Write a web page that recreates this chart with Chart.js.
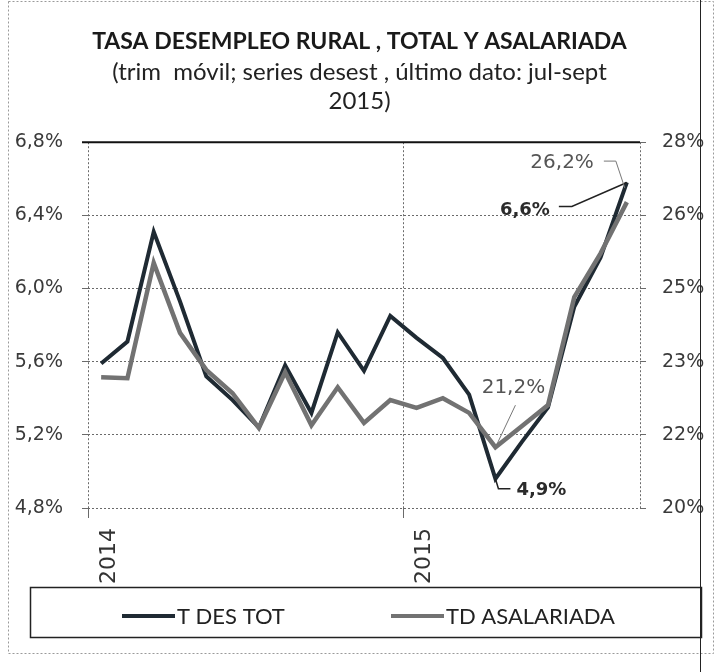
<!DOCTYPE html>
<html>
<head>
<meta charset="utf-8">
<script src="https://cdn.jsdelivr.net/npm/chart.js@4.4.0/dist/chart.umd.min.js"></script>
<style>
  html, body { margin: 0; padding: 0; background: #fff; }
  #wrap { width: 719px; height: 672px; position: relative; }
</style>
</head>
<body>
<div id="wrap"><canvas id="desempleoChart"></canvas></div>
<script>
// Moving quarters, Jan 2014 .. Sep 2015
const months = [
  "ene-14", "feb-14", "mar-14", "abr-14", "may-14", "jun-14", "jul-14", "ago-14", "sep-14", "oct-14", "nov-14", "dic-14",
  "ene-15", "feb-15", "mar-15", "abr-15", "may-15", "jun-15", "jul-15", "ago-15", "sep-15"
];
const xTickLabels = [
  "2014", "", "", "", "", "", "", "", "", "", "", "",
  "2015", "", "", "", "", "", "", "", ""
];

// T DES TOT (left axis, %)
const tasaTotal = [5.59, 5.71, 6.31, 5.93, 5.52, 5.39, 5.24, 5.58, 5.32, 5.76, 5.55, 5.85,
  5.73, 5.62, 5.42, 4.96, 5.16, 5.35, 5.90, 6.17, 6.58];
// TD ASALARIADA (right axis, %)
const tasaAsalariada = [22.86, 22.84, 25.36, 23.83, 23.02, 22.51, 21.75, 22.97, 21.81, 22.64, 21.86, 22.36,
  22.19, 22.40, 22.08, 21.33, 21.79, 22.25, 24.61, 25.57, 26.69];

const leftTicks = [4.8, 5.2, 5.6, 6.0, 6.4, 6.8];
const rightTicks = [20, 21.6, 23.2, 24.8, 26.4, 28];

// value callouts drawn next to their points
const callouts = [
  { ds: 0, idx: 20, text: "6,6%", bold: true },
  { ds: 1, idx: 20, text: "26,2%", bold: false },
  { ds: 1, idx: 15, text: "21,2%", bold: false },
  { ds: 0, idx: 15, text: "4,9%", bold: true }
];

const DARK = "#1f2a33";
const GRAY = "#727272";
const GRID = "#6a6a6a";

const pageDecor = {
  id: "pageDecor",
  beforeDraw(chart) {
    const ctx = chart.ctx;
    ctx.save();
    ctx.fillStyle = "#fff";
    ctx.fillRect(0, 0, chart.width, chart.height);
    ctx.restore();
  },
  afterDraw(chart) {
    const ctx = chart.ctx;
    const area = chart.chartArea;
    ctx.save();

    // outer frame of the pasted chart
    ctx.strokeStyle = "#9a9a9a";
    ctx.lineWidth = 1;
    ctx.setLineDash([2, 2]);
    ctx.strokeRect(8.5, 1.5, 705, 652);
    ctx.setLineDash([]);
    ctx.strokeStyle = "#222";
    ctx.beginPath();
    ctx.moveTo(700.5, 0);
    ctx.lineTo(700.5, 672);
    ctx.stroke();

    // solid top border of the plot
    ctx.strokeStyle = "#111";
    ctx.lineWidth = 2;
    ctx.beginPath();
    ctx.moveTo(area.left - 6, area.top);
    ctx.lineTo(area.right, area.top);
    ctx.stroke();

    // legend box
    ctx.lineWidth = 1.5;
    ctx.strokeStyle = "#222";
    ctx.strokeRect(30.5, 587.5, 671, 50);
    const items = [{ x: 122, textX: 177 }, { x: 391, textX: 446 }];
    ctx.font = "22px Lato";
    ctx.textBaseline = "middle";
    ctx.textAlign = "left";
    chart.data.datasets.forEach((ds, i) => {
      const it = items[i];
      ctx.strokeStyle = ds.borderColor;
      ctx.lineWidth = 4;
      ctx.beginPath();
      ctx.moveTo(it.x, 616);
      ctx.lineTo(it.x + 53, 616);
      ctx.stroke();
      ctx.fillStyle = "#222";
      ctx.fillText(ds.label, it.textX, 617);
    });

    // callouts with leader lines
    callouts.forEach((c) => {
      const pt = chart.getDatasetMeta(c.ds).data[c.idx];
      const x = pt.x, y = pt.y;
      ctx.font = (c.bold ? "bold 18px" : "20px") + " 'DejaVu Sans'";
      ctx.fillStyle = c.bold ? "#2b2b2b" : "#555";
      ctx.strokeStyle = c.bold ? "#222" : "#777";
      ctx.lineWidth = c.bold ? 1.5 : 1;
      ctx.textBaseline = "middle";
      ctx.beginPath();
      if (c.text === "6,6%") {
        ctx.textAlign = "right";
        ctx.fillText(c.text, x - 77, y + 28);
        ctx.moveTo(x, y);
        ctx.lineTo(x - 55, y + 24);
        ctx.lineTo(x - 68, y + 24);
      } else if (c.text === "26,2%") {
        ctx.textAlign = "right";
        ctx.fillText(c.text, x - 33, y - 39);
        ctx.moveTo(x - 2, y - 14);
        ctx.lineTo(x - 11, y - 41);
        ctx.lineTo(x - 23, y - 41);
      } else if (c.text === "21,2%") {
        ctx.textAlign = "center";
        ctx.fillText(c.text, x + 18, y - 59);
        ctx.moveTo(x + 2, y - 4);
        ctx.lineTo(x + 20, y - 42);
      } else {
        ctx.textAlign = "left";
        ctx.fillText(c.text, x + 21, y + 12);
        ctx.moveTo(x, y);
        ctx.lineTo(x + 3, y + 10);
        ctx.lineTo(x + 15, y + 10);
      }
      ctx.stroke();
    });
    ctx.restore();
  }
};

function initDesempleoChart() {
  const ctx = document.getElementById("desempleoChart");
  if (!ctx) return;

  new Chart(ctx, {
    type: "line",
    data: {
      labels: months,
      datasets: [
        {
          label: "T DES TOT",
          data: tasaTotal,
          yAxisID: "y",
          borderColor: DARK,
          borderWidth: 4,
          tension: 0,
          pointRadius: 0,
          order: 2
        },
        {
          label: "TD ASALARIADA",
          data: tasaAsalariada,
          yAxisID: "y2",
          borderColor: GRAY,
          borderWidth: 4.5,
          tension: 0,
          pointRadius: 0,
          order: 1
        }
      ]
    },
    options: {
      responsive: true,
      maintainAspectRatio: false,
      animation: false,
      layout: { padding: { left: 0, right: 0, top: 0, bottom: 85 } },
      plugins: {
        legend: { display: false },
        tooltip: { enabled: false },
        title: {
          display: true,
          text: "TASA DESEMPLEO RURAL , TOTAL Y ASALARIADA",
          color: "#1a1a1a",
          font: { family: "Lato", size: 23, weight: "bold", lineHeight: 1.2 },
          padding: { top: 28, bottom: 0 }
        },
        subtitle: {
          display: true,
          text: ["(trim  móvil; series desest , último dato: jul-sept", "2015)"],
          color: "#222",
          font: { family: "Lato", size: 24, lineHeight: 1.2 },
          padding: { top: 2, bottom: 27 }
        }
      },
      scales: {
        x: {
          type: "category",
          offset: true,
          grid: {
            offset: true,
            color: (c) => (c.type === "scale" || c.index === 0 || c.index === 12 ? GRID : "transparent"),
            tickColor: (c) => (c.type === "scale" ? "transparent" : (c.index === 0 || c.index === 12 ? GRID : "transparent")),
            tickLength: 10,
            lineWidth: 1
          },
          border: { display: false, dash: [2, 2] },
          ticks: {
            autoSkip: false,
            minRotation: 90,
            maxRotation: 90,
            padding: 10,
            labelOffset: 8,
            color: "#333",
            font: { family: "DejaVu Sans", size: 22 },
            callback: (v, i) => xTickLabels[i]
          },
          afterFit: (s) => { s.height = 79; }
        },
        y: {
          position: "left",
          min: 4.8,
          max: 6.8,
          afterBuildTicks: (s) => { s.ticks = leftTicks.map((v) => ({ value: v })); },
          grid: { color: GRID, tickColor: GRID, tickLength: 6, lineWidth: 1 },
          border: { display: false, dash: [2, 2] },
          ticks: {
            padding: 19,
            color: "#3a3a3a",
            font: { family: "DejaVu Sans", size: 19 },
            callback: (v) => v.toFixed(1).replace(".", ",") + "%"
          },
          afterFit: (s) => { s.width = 88; }
        },
        y2: {
          position: "right",
          min: 20,
          max: 28,
          afterBuildTicks: (s) => { s.ticks = rightTicks.map((v) => ({ value: v })); },
          grid: { drawOnChartArea: false, tickColor: GRID, tickLength: 6 },
          border: { display: false },
          ticks: {
            padding: 16,
            color: "#3a3a3a",
            font: { family: "DejaVu Sans", size: 19 },
            callback: (v) => Math.round(v) + "%"
          },
          afterFit: (s) => { s.width = 79; }
        }
      }
    },
    plugins: [pageDecor]
  });
}

document.addEventListener("DOMContentLoaded", function () {
  initDesempleoChart();
});
</script>
</body>
</html>
